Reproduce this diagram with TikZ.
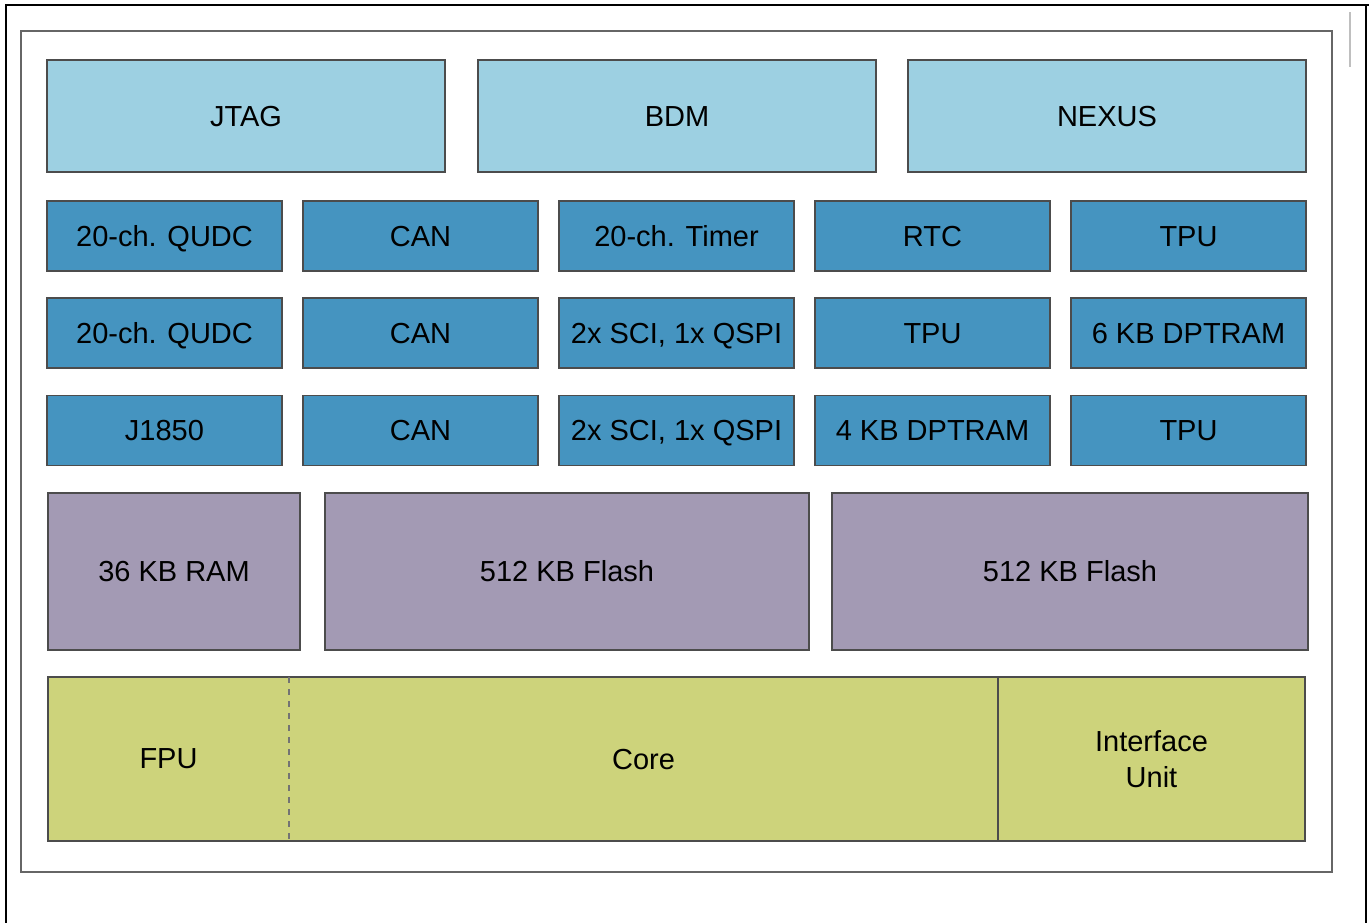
\documentclass[tikz,border=0pt]{standalone}
\usepackage{fontspec}
\setmainfont{Liberation Sans}
\usetikzlibrary{positioning,math}
\definecolor{dbgLight}{HTML}{9DD0E2}
\definecolor{periBlue}{HTML}{4594C0}
\definecolor{memPurple}{HTML}{A39AB4}
\definecolor{coreGreen}{HTML}{CDD37B}

\begin{document}
\begin{tikzpicture}[x=0.5pt,y=-0.5pt,
	every node/.style={outer sep=0pt, inner sep=0pt, align=center, font=\fontsize{14.5}{18}\selectfont},
	blk/.style={draw=black!70, line width=0.7pt, text height=10.4pt, text depth=0pt},
	sized/.style 2 args={minimum width=#1*0.5pt, minimum height=#2*0.5pt}]
	\tikzmath{
		\colStep = 256;
		\colW = 235;
		\rowH = 70;
	}
	\useasboundingbox (0,0) rectangle (1369,922);

	% frames
	\draw[line width=1pt] (6,930) -- (6,5) -- (1369,5);
	\draw[line width=1pt] (1366,5) -- (1366,930);
	\draw[black!25, line width=0.6pt] (1350,12) -- (1350,67);
	\draw[black!60, line width=1pt] (21,31) rectangle (1332,872);

	% debug interfaces
	\node[blk, fill=dbgLight, sized={398}{112}] (jtag) at (246,116) {JTAG};
	\node[blk, fill=dbgLight, sized={398}{112}] (bdm) at (677,116) {BDM};
	\node[blk, fill=dbgLight, sized={398}{112}] (nexus) at (1107,116) {NEXUS};

	% peripherals
	\foreach \lbl [count=\i] in {20-ch. QUDC, CAN, 20-ch. Timer, RTC, TPU}
		\node[blk, fill=periBlue, sized={\colW}{\rowH}] (pa\i) at ({164.5+(\i-1)*\colStep},236) {\lbl};
	\foreach \lbl [count=\i] in {20-ch. QUDC, CAN, {2x SCI, 1x QSPI}, TPU, 6 KB DPTRAM}
		\node[blk, fill=periBlue, sized={\colW}{\rowH}] (pb\i) at ({164.5+(\i-1)*\colStep},333) {\lbl};
	\foreach \lbl [count=\i] in {J1850, CAN, {2x SCI, 1x QSPI}, 4 KB DPTRAM, TPU}
		\node[blk, fill=periBlue, sized={\colW}{\rowH}] (pc\i) at ({164.5+(\i-1)*\colStep},430.5) {\lbl};

	% memories
	\node[blk, fill=memPurple, sized={252}{157}] (ram) at (174,571.5) {36 KB RAM};
	\node[blk, fill=memPurple, sized={484}{157}] (flashA) at (567,571.5) {512 KB Flash};
	\node[blk, fill=memPurple, sized={476}{157}] (flashB) at (1070,571.5) {512 KB Flash};

	% core
	\node[fill=coreGreen, sized={241}{164}] (fpu) at (168.5,759) {FPU};
	\node[fill=coreGreen, sized={709}{164}] (core) at (643.5,759) {Core};
	\node[fill=coreGreen, sized={307}{164}] (iu) at (1151.5,759) {Interface\\[0pt]Unit};
	\draw[black!70, line width=0.7pt] (fpu.north west) rectangle (iu.south east);
	\draw[black!55, line width=0.7pt, dashed] (fpu.north east) -- (fpu.south east);
	\draw[black!70, line width=0.7pt] (iu.north west) -- (iu.south west);
\end{tikzpicture}
\end{document}
